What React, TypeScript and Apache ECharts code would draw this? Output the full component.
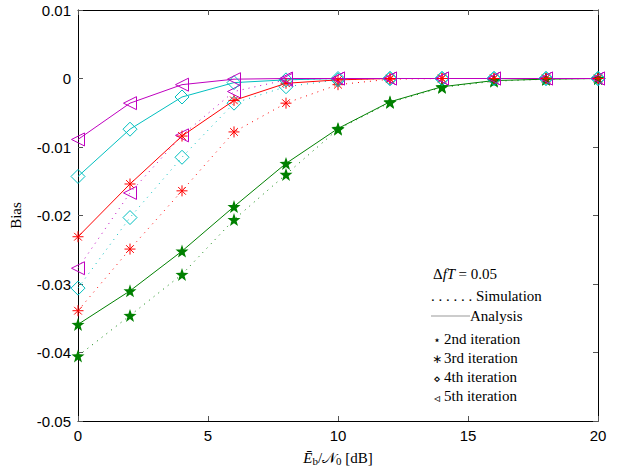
import React, { useEffect, useRef } from "react";
import * as echarts from "echarts";

// Eb/N0 grid in dB
const snr = [0, 2, 4, 6, 8, 10, 12, 14, 16, 18, 20];

// Bias per iteration: analysis (solid) and simulation (dotted)
const ana2 = [-0.0359, -0.031, -0.0252, -0.0187, -0.0124, -0.0073, -0.0034, -0.0012, -0.0003, -0.0001, 0];
const sim2 = [-0.0405, -0.0346, -0.0286, -0.0206, -0.014, -0.0074, -0.0035, -0.0013, -0.0004, -0.0001, 0];
const ana3 = [-0.0231, -0.0154, -0.0084, -0.0032, -0.0007, -0.0002, 0, 0, 0, 0, 0];
const sim3 = [-0.0339, -0.0249, -0.0164, -0.0078, -0.0036, -0.0009, -0.0001, 0, 0, 0, 0];
const ana4 = [-0.0143, -0.0074, -0.0027, -0.0006, -0.0002, 0, 0, 0, 0, 0, 0];
const sim4 = [-0.0306, -0.0203, -0.0115, -0.0036, -0.0012, -0.0002, 0, 0, 0, 0, 0];
const ana5 = [-0.0089, -0.0036, -0.0009, -0.0001, 0, 0, 0, 0, 0, 0, 0];
const sim5 = [-0.0277, -0.0167, -0.0083, -0.0019, -0.0002, 0, 0, 0, 0, 0, 0];

const legendMarks = ["\u22c6", "\u2217", "\u22c4", "\u25c3"];
const legendNames = ["2nd iteration", "3rd iteration", "4th iteration", "5th iteration"];

const STAR =
  "path://M0,-10 L2.35,-3.24 L9.51,-3.09 L3.8,1.24 L5.88,8.09 L0,4 L-5.88,8.09 L-3.8,1.24 L-9.51,-3.09 L-2.35,-3.24 Z";
const ASTER =
  "path://M0,-10 L0,10 M-10,0 L10,0 M-7,-7 L7,7 M-7,7 L7,-7";
const DIAMOND = "path://M0,-10 L7,0 L0,10 L-7,0 Z";
const TRI_LEFT = "path://M7,-10 L-7,0 L7,10 Z";

const GREEN = "#008000";
const RED = "#ff0000";
const CYAN = "#00bfbf";
const MAGENTA = "#bf00bf";

const SERIF = "'Liberation Serif', 'DejaVu Serif', serif";
const SANS = "'Liberation Sans', Arial, sans-serif";

function pairs(ys: number[]) {
  return snr.map((x, i) => [x, ys[i]]);
}

function makeSeries(
  ys: number[],
  color: string,
  symbol: string,
  size: number,
  filled: boolean,
  dotted: boolean,
  stroked: boolean
) {
  return {
    type: "line",
    data: pairs(ys),
    symbol,
    symbolSize: size,
    showAllSymbol: true,
    lineStyle: {
      color,
      width: 1,
      type: dotted ? [1, 5] : "solid",
    },
    itemStyle: {
      color: filled ? color : "rgba(0,0,0,0)",
      borderColor: color,
      borderWidth: stroked ? 1 : 0,
    },
    emphasis: { disabled: true },
    z: dotted ? 2 : 3,
  };
}

export default function App() {
  const ref = useRef<HTMLDivElement>(null);

  useEffect(() => {
    if (!ref.current) return;
    const chart = echarts.init(ref.current, undefined, { renderer: "svg" });

    const axisCommon = {
      type: "value",
      axisLine: { show: true, onZero: false, lineStyle: { color: "#000", width: 1 } },
      axisTick: { show: true, inside: true, length: 5, lineStyle: { color: "#555" } },
      splitLine: { show: false },
    };

    chart.setOption({
      animation: false,
      backgroundColor: "#fff",
      grid: { left: 77, right: 20, top: 10, bottom: 48 },
      xAxis: [
        {
          ...axisCommon,
          min: 0,
          max: 20,
          interval: 5,
          position: "bottom",
          axisLabel: { color: "#000", fontFamily: SANS, fontSize: 15, margin: 7 },
          name: "{e|\u0112}{s|b}{n|/\ud835\udca9}{s|0}{n| [dB]}",
          nameLocation: "middle",
          nameGap: 28,
          nameTextStyle: {
            rich: {
              e: { fontFamily: SERIF, fontSize: 15, fontStyle: "italic", color: "#000" },
              n: { fontFamily: SERIF, fontSize: 15, color: "#000" },
              s: { fontFamily: SERIF, fontSize: 11, color: "#000", verticalAlign: "bottom", padding: [6, 0, 0, 0] },
            },
          },
        },
        {
          ...axisCommon,
          min: 0,
          max: 20,
          interval: 5,
          position: "top",
          axisLabel: { show: false },
        },
      ],
      yAxis: [
        {
          ...axisCommon,
          min: -0.05,
          max: 0.01,
          interval: 0.01,
          position: "left",
          axisLabel: {
            color: "#000",
            fontFamily: SANS,
            fontSize: 15,
            margin: 7,
            formatter: (v: number) => {
              const r = Math.round(v * 100) / 100;
              return r === 0 ? "0" : String(r);
            },
          },
          name: "Bias",
          nameLocation: "middle",
          nameGap: 55,
          nameRotate: 90,
          nameTextStyle: { fontFamily: SERIF, fontSize: 15, color: "#000" },
        },
        {
          ...axisCommon,
          min: -0.05,
          max: 0.01,
          interval: 0.01,
          position: "right",
          axisLabel: { show: false },
        },
      ],
      series: [
        makeSeries(sim2, GREEN, STAR, 13, true, true, false),
        makeSeries(sim3, RED, ASTER, 11, false, true, true),
        makeSeries(sim4, CYAN, DIAMOND, 14, false, true, true),
        makeSeries(sim5, MAGENTA, TRI_LEFT, 13, false, true, true),
        makeSeries(ana2, GREEN, STAR, 13, true, false, false),
        makeSeries(ana3, RED, ASTER, 11, false, false, true),
        makeSeries(ana4, CYAN, DIAMOND, 14, false, false, true),
        makeSeries(ana5, MAGENTA, TRI_LEFT, 13, false, false, true),
      ],
      graphic: [
        {
          type: "text",
          left: 433,
          top: 266,
          style: {
            text: "{d|\u0394}{i|fT} {n|= 0.05}",
            rich: {
              d: { fontFamily: SERIF, fontSize: 15, fill: "#000" },
              i: { fontFamily: SERIF, fontSize: 15, fontStyle: "italic", fill: "#000" },
              n: { fontFamily: SERIF, fontSize: 15, fill: "#000" },
            },
          },
        },
        {
          type: "text",
          left: 431,
          top: 288,
          style: { text: ". . . . . . Simulation", fontFamily: SERIF, fontSize: 15, fill: "#000" },
        },
        {
          type: "line",
          shape: { x1: 431, y1: 316, x2: 470, y2: 316 },
          style: { stroke: "#555", lineWidth: 0.6 },
        },
        {
          type: "text",
          left: 470,
          top: 308,
          style: { text: "Analysis", fontFamily: SERIF, fontSize: 15, fill: "#000" },
        },
        ...legendMarks.map((m, i) => ({
          type: "text",
          x: 437,
          y: 340 + i * 19.3,
          style: {
            text: m,
            fontFamily: "'DejaVu Sans', sans-serif",
            fontSize: 12,
            fill: "#000",
            align: "center",
            verticalAlign: "middle",
          },
        })),
        ...legendNames.map((t, i) => ({
          type: "text",
          left: 444,
          top: 331 + i * 19.3,
          style: { text: t, fontFamily: SERIF, fontSize: 15, fill: "#000" },
        })),
      ],
    });

    return () => chart.dispose();
  }, []);

  return (
    <div
      ref={ref}
      style={{ position: "absolute", left: 0, top: 0, width: 618, height: 471 }}
    />
  );
}
